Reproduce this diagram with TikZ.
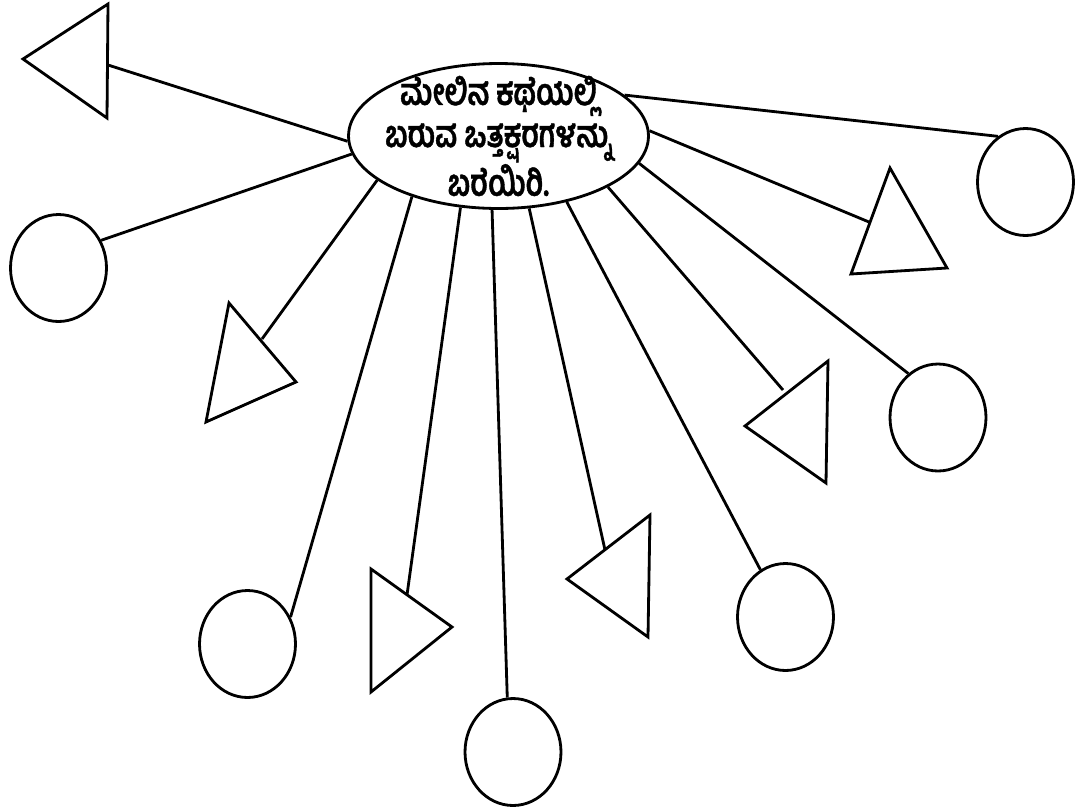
\documentclass[tikz,border=0pt]{standalone}
\usepackage{fontspec}
\usepackage{tikz}
\usetikzlibrary{shapes.geometric}
\newfontfamily\kannadafont[Script=Kannada, FakeStretch=0.77, FakeBold=1]{Hind Mysuru}
\tikzstyle{task} = [ellipse, minimum width=6cm, minimum height=2.9cm, inner sep=-1cm, align=center, draw=black, line width=1.6pt, font=\kannadafont\bfseries\fontsize{21}{24}\selectfont]
\tikzstyle{blank} = [ellipse, minimum width=1.92cm, minimum height=2.14cm, inner sep=0pt, draw=black, line width=1.6pt]
\tikzstyle{tri} = [draw=black, line width=1.6pt, line join=miter]
\tikzstyle{link} = [line width=1.6pt]

\begin{document}
\begin{tikzpicture}[x=0.02cm, y=-0.02cm]
    \useasboundingbox (0,0) rectangle (1079,809);
    \node (Task) [task] at (498.5,136) {ಮೇಲಿನ ಕಥೆಯಲ್ಲಿ\\ಬರುವ ಒತ್ತಕ್ಷರಗಳನ್ನು\\ಬರೆಯಿರಿ.};
    % circles
    \node (Circle2) [blank] at (58.5,268) {};
    \node (Circle4) [blank] at (247.5,644) {};
    \node (Circle6) [blank] at (513,752) {};
    \node (Circle8) [blank] at (785.5,617) {};
    \node (Circle10) [blank] at (938,417.5) {};
    \node (Circle12) [blank] at (1025.5,182) {};
    % triangles
    \draw [tri] (23,59) -- (108,4) -- (107,118) -- cycle;
    \draw [tri] (229,303) -- (296,382) -- (206,422) -- cycle;
    \draw [tri] (371,569) -- (452,627) -- (371,692) -- cycle;
    \draw [tri] (567,579) -- (650,515) -- (648,637) -- cycle;
    \draw [tri] (745,426) -- (828,361) -- (826,483) -- cycle;
    \draw [tri] (890,168) -- (947,268) -- (851,274) -- cycle;
    \coordinate (Tri1) at (108,65);
    \coordinate (Tri3) at (262,339);
    \coordinate (Tri5) at (407,595);
    \coordinate (Tri7) at (605,550);
    \coordinate (Tri9) at (783,390);
    \coordinate (Tri11) at (869,222);
    % connectors
    \draw [link] (Task.182.7) -- (Tri1);
    \draw [link] (Task.187.1) -- (Circle2.33.4);
    \draw [link] (Task.200.5) -- (Tri3);
    \draw [link] (Task.215.6) -- (Circle4.32.8);
    \draw [link] (Task.242.2) -- (Tri5);
    \draw [link] (Task.265.8) -- (Circle6.96.3);
    \draw [link] (Task.293.3) -- (Tri7);
    \draw [link] (Task.316.0) -- (Circle8.118.8);
    \draw [link] (Task.335.7) -- (Tri9);
    \draw [link] (Task.349.0) -- (Circle10.124.7);
    \draw [link] (Task.2.3) -- (Tri11);
    \draw [link] (Task.18.5) -- (Circle12.121.2);
\end{tikzpicture}
\end{document}
